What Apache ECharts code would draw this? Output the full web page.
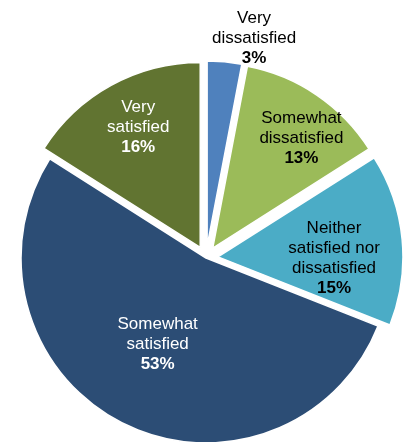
<!DOCTYPE html>
<html>
<head>
<meta charset="utf-8">
<script src="https://cdn.jsdelivr.net/npm/echarts@6/dist/echarts.min.js"></script>
<style>
  html, body { margin: 0; padding: 0; background: #fff; }
  #chart { width: 403px; height: 442px; }
</style>
</head>
<body>
<div id="chart"></div>
<script>
// Satisfaction survey shares, clockwise from 12 o'clock
const categories = [
  'Very\ndissatisfied',
  'Somewhat\ndissatisfied',
  'Neither\nsatisfied nor\ndissatisfied',
  'Somewhat\nsatisfied',
  'Very\nsatisfied'
];
const shares = [3, 13, 15, 53, 16];
const exploded = [true, true, true, false, true];

const sliceColors = ['#4F81BD', '#9BBB59', '#4BACC6', '#2C4D75', '#617431'];
const labelColors = ['#000', '#000', '#000', '#fff', '#fff'];
// nudges of each label away from the slice's mid-radius point
const labelNudge = [[38, -113], [35, -31], [21, 10], [-5, 1], [-16, -36]];

const chart = echarts.init(document.getElementById('chart'), null, { renderer: 'canvas' });

const data = categories.map((name, i) => ({
  name: name,
  value: shares[i],
  selected: exploded[i],
  itemStyle: { color: sliceColors[i] },
  label: {
    rich: {
      n: { color: labelColors[i], fontSize: 17, lineHeight: 20, fontFamily: 'Liberation Sans, Arial, sans-serif' },
      p: { color: labelColors[i], fontSize: 17, lineHeight: 20, fontWeight: 'bold', fontFamily: 'Liberation Sans, Arial, sans-serif' }
    }
  }
}));

chart.setOption({
  animation: false,
  series: [{
    type: 'pie',
    center: [206, 258],
    radius: [0, 185],
    startAngle: 90,
    clockwise: true,
    selectedMode: 'multiple',
    selectedOffset: 12,
    avoidLabelOverlap: false,
    itemStyle: { borderColor: '#fff', borderWidth: 1.5 },
    emphasis: { disabled: true },
    label: {
      show: true,
      position: 'inside',
      align: 'center',
      formatter: p => '{n|' + p.name + '}\n{p|' + p.value + '%}'
    },
    labelLine: { show: false },
    labelLayout: params => ({ dx: labelNudge[params.dataIndex][0], dy: labelNudge[params.dataIndex][1] }),
    data: data
  }]
});
</script>
</body>
</html>
